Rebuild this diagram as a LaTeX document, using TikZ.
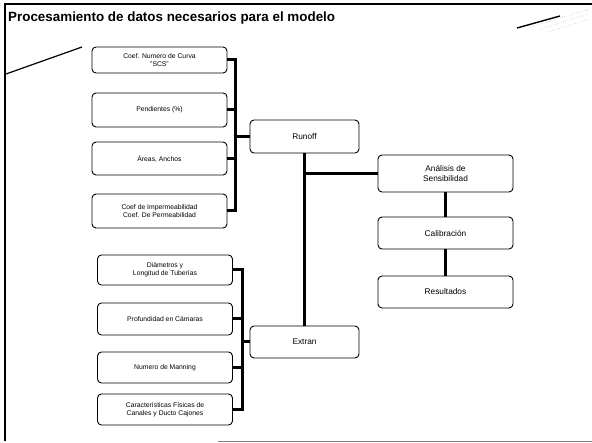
\documentclass[tikz,border=0pt]{standalone}
\usepackage{fontspec}
\setmainfont{Liberation Sans}
\begin{document}
\begin{tikzpicture}[x=1pt,y=-1pt,
  inbox/.style={draw,rounded corners=4pt,line width=0.9pt,minimum width=135pt,align=center,font=\fontsize{6.8}{8}\selectfont,inner sep=1pt},
  midbox/.style={draw,rounded corners=4pt,line width=0.9pt,minimum width=109pt,align=center,font=\fontsize{8.3}{10}\selectfont,inner sep=1pt},
  outbox/.style={draw,rounded corners=4pt,line width=0.9pt,minimum width=135pt,align=center,font=\fontsize{8.3}{10}\selectfont,inner sep=1pt},
  conn/.style={line width=3pt}]
\useasboundingbox (0,0) rectangle (592,443);
% frame
\draw[line width=1.1pt] (5,441) -- (5,4) -- (592,4);
\draw[line width=0.8pt,gray] (218,441) -- (592,441);
\draw[line width=1.2pt] (6,74) -- (82,47);
\draw[line width=1.4pt] (517,28) -- (560,16);
\draw[line width=0.4pt,gray,dotted] (530,27) -- (590,9);
\draw[line width=0.4pt,gray,dotted] (538,30) -- (588,14);
\draw[line width=0.4pt,gray,dotted] (548,32) -- (589,19);
% title
\node[anchor=base west,inner sep=0pt,font=\fontsize{13.4}{15}\selectfont\bfseries] (title) at (8,22) {Procesamiento de datos necesarios para el modelo};
% upper inputs
\node[inbox,minimum height=26pt] (b1) at (159.5,60) {Coef. Numero de Curva\\"SCS"};
\node[inbox,minimum height=34pt] (b2) at (159.5,110) {Pendientes (\%)};
\node[inbox,minimum height=33pt] (b3) at (159.5,158.5) {Áreas, Anchos};
\node[inbox,minimum height=34pt] (b4) at (159.5,211) {Coef de Impermeabilidad\\Coef. De Permeabilidad};
% lower inputs
\node[inbox,minimum height=30pt] (b5) at (165,270) {Diámetros y\\Longitud de Tuberías};
\node[inbox,minimum height=32pt] (b6) at (165,319) {Profundidad en Cámaras};
\node[inbox,minimum height=31pt] (b7) at (165,367.5) {Numero de Manning};
\node[inbox,minimum height=31pt] (b8) at (165,409.5) {Características Físicas de\\Canales y Ducto Cajones};
% middle
\node[midbox,minimum height=33pt] (runoff) at (304.5,136.5) {Runoff};
\node[midbox,minimum height=32pt] (extran) at (304.5,342) {Extran};
% right
\node[outbox,minimum height=37pt] (anal) at (445.5,173.5) {Análisis de\\Sensibilidad};
\node[outbox,minimum height=32pt] (calib) at (445.5,233) {Calibración};
\node[outbox,minimum height=32pt] (resul) at (445.5,292) {Resultados};
% junctions
\coordinate (j1) at (235,136.5);
\coordinate (j3) at (242,342);
% upper bus
\draw[conn] (b1.east) -| (j1);
\draw[conn] (b4.east) -| (j1);
\draw[conn] (b2.east) -- (b2.east -| j1);
\draw[conn] (b3.east) -- (b3.east -| j1);
\draw[conn] (j1) -- (runoff.west);
% lower bus
\draw[conn] (b5.east) -| (j3);
\draw[conn] (b8.east) -| (j3);
\draw[conn] (b6.east) -- (b6.east -| j3);
\draw[conn] (b7.east) -- (b7.east -| j3);
\draw[conn] (j3) -- (extran.west);
% runoff - extran and right chain
\draw[conn] (runoff.south) -- (extran.north);
\draw[conn] (anal.west -| runoff.south) -- (anal.west);
\draw[conn] (anal.south) -- (calib.north);
\draw[conn] (calib.south) -- (resul.north);
\end{tikzpicture}
\end{document}
